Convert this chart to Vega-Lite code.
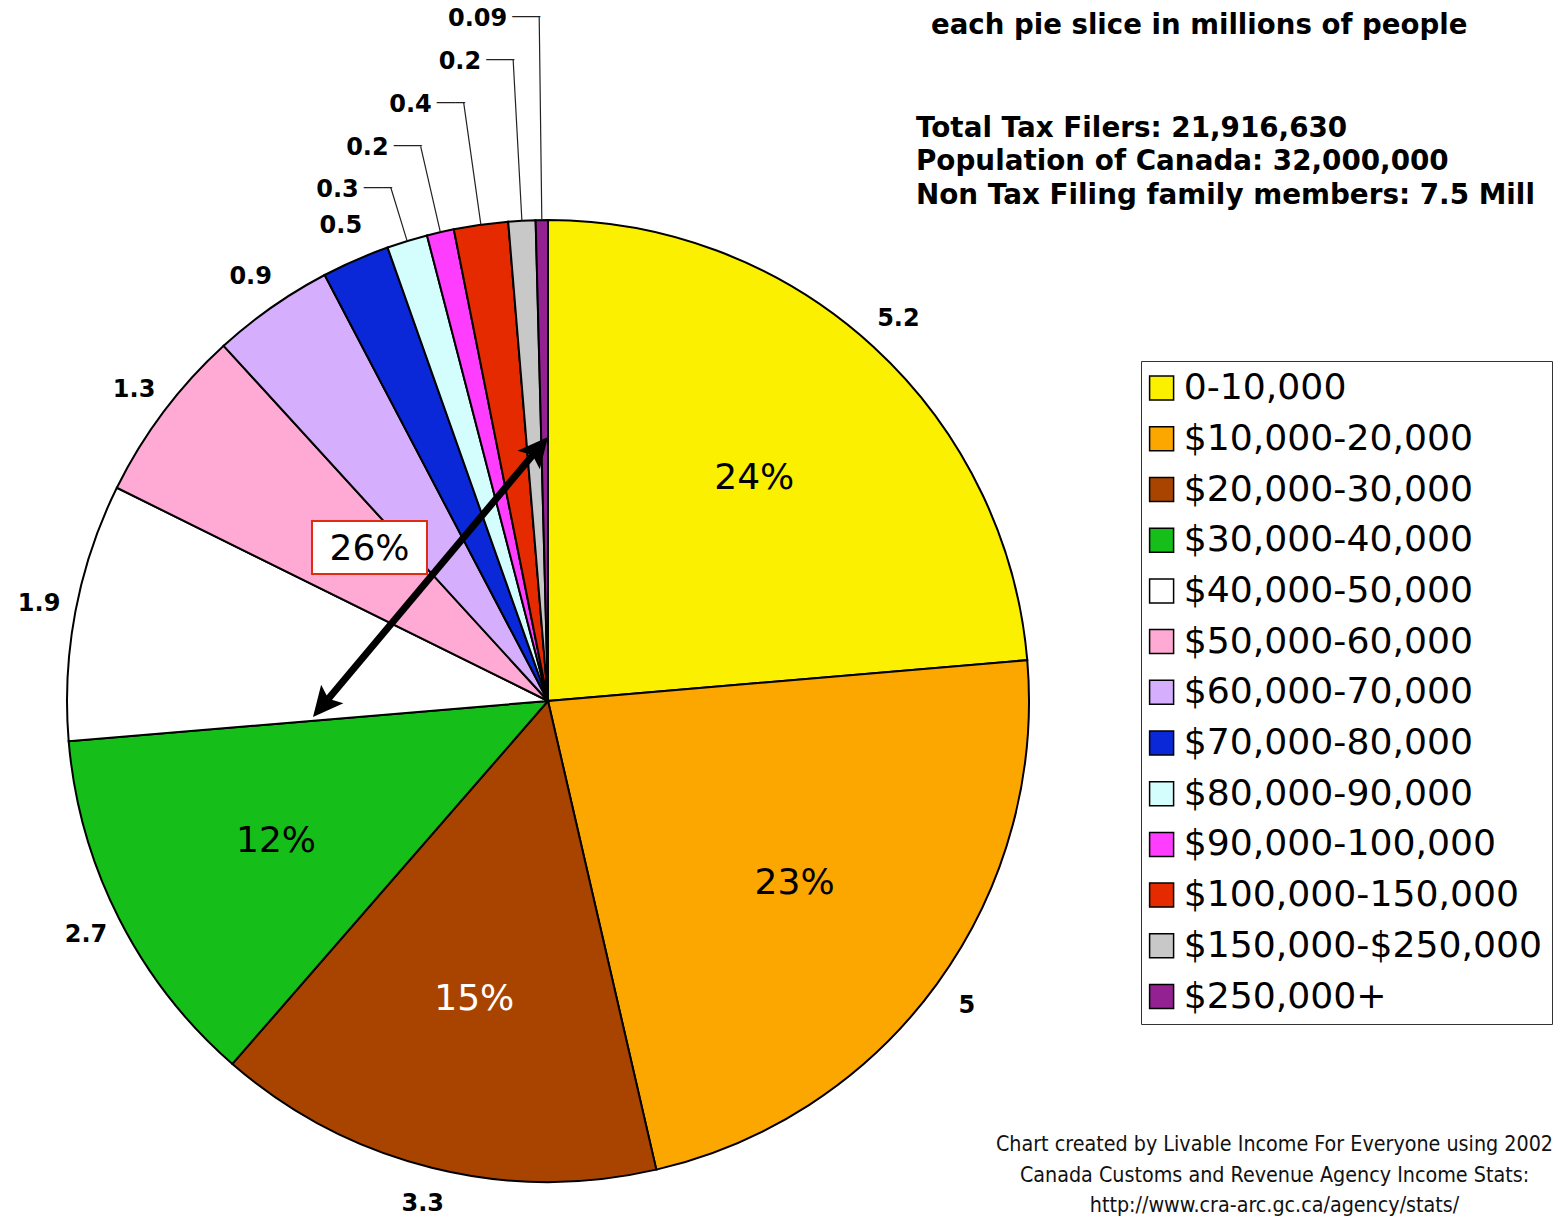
{
  "$schema": "https://vega.github.io/schema/vega-lite/v6.json",
  "width": 1096,
  "height": 1000,
  "autosize": {"type": "none"},
  "padding": {"left": 0, "top": 201, "right": 459, "bottom": 16},
  "background": "white",
  "config": {"view": {"stroke": null}},
  "datasets": {
    "slices": [
      {"idx": 1, "bracket": "0-10,000", "value": 5.2, "pct": "24%"},
      {"idx": 2, "bracket": "$10,000-20,000", "value": 5, "pct": "23%"},
      {"idx": 3, "bracket": "$20,000-30,000", "value": 3.3, "pct": "15%"},
      {"idx": 4, "bracket": "$30,000-40,000", "value": 2.7, "pct": "12%"},
      {"idx": 5, "bracket": "$40,000-50,000", "value": 1.9, "pct": ""},
      {"idx": 6, "bracket": "$50,000-60,000", "value": 1.3, "pct": ""},
      {"idx": 7, "bracket": "$60,000-70,000", "value": 0.9, "pct": ""},
      {"idx": 8, "bracket": "$70,000-80,000", "value": 0.5, "pct": ""},
      {"idx": 9, "bracket": "$80,000-90,000", "value": 0.3, "pct": ""},
      {"idx": 10, "bracket": "$90,000-100,000", "value": 0.2, "pct": ""},
      {"idx": 11, "bracket": "$100,000-150,000", "value": 0.4, "pct": ""},
      {"idx": 12, "bracket": "$150,000-$250,000", "value": 0.2, "pct": ""},
      {"idx": 13, "bracket": "$250,000+", "value": 0.09, "pct": ""}
    ],
    "one": [{"n": 1}]
  },
  "data": {"name": "slices"},
  "layer": [
    {
      "mark": {"type": "arc", "outerRadius": 481, "stroke": "black", "strokeWidth": 2},
      "encoding": {
        "theta": {"field": "value", "type": "quantitative", "stack": true},
        "order": {"field": "idx", "type": "quantitative"},
        "color": {
          "field": "bracket",
          "type": "nominal",
          "scale": {
            "domain": ["0-10,000", "$10,000-20,000", "$20,000-30,000", "$30,000-40,000", "$40,000-50,000", "$50,000-60,000", "$60,000-70,000", "$70,000-80,000", "$80,000-90,000", "$90,000-100,000", "$100,000-150,000", "$150,000-$250,000", "$250,000+"],
            "range": ["#FAF000", "#FCA600", "#A84400", "#15BE18", "#FFFFFF", "#FFAAD5", "#D5AEFD", "#0A28D8", "#D4FEFE", "#FF3DFF", "#E52A00", "#C8C8C8", "#932192"]
          },
          "legend": {
            "title": null,
            "orient": "none",
            "legendX": 1141,
            "legendY": 160,
            "symbolType": "square",
            "symbolSize": 576,
            "symbolStrokeColor": "black",
            "symbolStrokeWidth": 1.5,
            "symbolOffset": -6.5,
            "labelFont": "DejaVu Sans",
            "labelFontSize": 36.2,
            "labelColor": "black",
            "labelLimit": 600,
            "labelOffset": 4,
            "rowPadding": 13.7,
            "padding": 9,
            "strokeColor": "#333333",
            "fillColor": "white"
          }
        }
      }
    },
    {
      "mark": {"type": "arc", "innerRadius": 481, "outerRadius": 537, "padAngle": 3, "filled": false, "stroke": "#222222", "strokeWidth": 1.2},
      "encoding": {
        "theta": {"field": "value", "type": "quantitative", "stack": true},
        "order": {"field": "idx", "type": "quantitative"},
        "strokeOpacity": {"condition": {"test": "datum.idx == 9", "value": 1}, "value": 0}
      }
    },
    {
      "mark": {"type": "arc", "innerRadius": 481, "outerRadius": 569, "padAngle": 3, "filled": false, "stroke": "#222222", "strokeWidth": 1.2},
      "encoding": {
        "theta": {"field": "value", "type": "quantitative", "stack": true},
        "order": {"field": "idx", "type": "quantitative"},
        "strokeOpacity": {"condition": {"test": "datum.idx == 10", "value": 1}, "value": 0}
      }
    },
    {
      "mark": {"type": "arc", "innerRadius": 481, "outerRadius": 604, "padAngle": 3, "filled": false, "stroke": "#222222", "strokeWidth": 1.2},
      "encoding": {
        "theta": {"field": "value", "type": "quantitative", "stack": true},
        "order": {"field": "idx", "type": "quantitative"},
        "strokeOpacity": {"condition": {"test": "datum.idx == 11", "value": 1}, "value": 0}
      }
    },
    {
      "mark": {"type": "arc", "innerRadius": 481, "outerRadius": 642, "padAngle": 3, "filled": false, "stroke": "#222222", "strokeWidth": 1.2},
      "encoding": {
        "theta": {"field": "value", "type": "quantitative", "stack": true},
        "order": {"field": "idx", "type": "quantitative"},
        "strokeOpacity": {"condition": {"test": "datum.idx == 12", "value": 1}, "value": 0}
      }
    },
    {
      "mark": {"type": "arc", "innerRadius": 481, "outerRadius": 684, "padAngle": 3, "filled": false, "stroke": "#222222", "strokeWidth": 1.2},
      "encoding": {
        "theta": {"field": "value", "type": "quantitative", "stack": true},
        "order": {"field": "idx", "type": "quantitative"},
        "strokeOpacity": {"condition": {"test": "datum.idx == 13", "value": 1}, "value": 0}
      }
    },
    {
      "mark": {"type": "text", "radius": 537, "align": "right", "baseline": "middle", "dx": 1, "font": "DejaVu Sans", "fontSize": 15.5, "color": "#222222"},
      "encoding": {
        "theta": {"field": "value", "type": "quantitative", "stack": true},
        "order": {"field": "idx", "type": "quantitative"},
        "text": {"condition": {"test": "datum.idx == 9", "value": "───"}, "value": ""}
      }
    },
    {
      "mark": {"type": "text", "radius": 569, "align": "right", "baseline": "middle", "dx": 1, "font": "DejaVu Sans", "fontSize": 15.5, "color": "#222222"},
      "encoding": {
        "theta": {"field": "value", "type": "quantitative", "stack": true},
        "order": {"field": "idx", "type": "quantitative"},
        "text": {"condition": {"test": "datum.idx == 10", "value": "───"}, "value": ""}
      }
    },
    {
      "mark": {"type": "text", "radius": 604, "align": "right", "baseline": "middle", "dx": 1, "font": "DejaVu Sans", "fontSize": 15.5, "color": "#222222"},
      "encoding": {
        "theta": {"field": "value", "type": "quantitative", "stack": true},
        "order": {"field": "idx", "type": "quantitative"},
        "text": {"condition": {"test": "datum.idx == 11", "value": "───"}, "value": ""}
      }
    },
    {
      "mark": {"type": "text", "radius": 642, "align": "right", "baseline": "middle", "dx": 1, "font": "DejaVu Sans", "fontSize": 15.5, "color": "#222222"},
      "encoding": {
        "theta": {"field": "value", "type": "quantitative", "stack": true},
        "order": {"field": "idx", "type": "quantitative"},
        "text": {"condition": {"test": "datum.idx == 12", "value": "───"}, "value": ""}
      }
    },
    {
      "mark": {"type": "text", "radius": 684, "align": "right", "baseline": "middle", "dx": 1, "font": "DejaVu Sans", "fontSize": 15.5, "color": "#222222"},
      "encoding": {
        "theta": {"field": "value", "type": "quantitative", "stack": true},
        "order": {"field": "idx", "type": "quantitative"},
        "text": {"condition": {"test": "datum.idx == 13", "value": "───"}, "value": ""}
      }
    },
    {
      "mark": {"type": "text", "radius": 537, "align": "right", "baseline": "middle", "dx": -32, "dy": 2, "font": "DejaVu Sans", "fontWeight": "bold", "fontSize": 24, "color": "black"},
      "encoding": {
        "theta": {"field": "value", "type": "quantitative", "stack": true},
        "order": {"field": "idx", "type": "quantitative"},
        "text": {"condition": {"test": "datum.idx == 9", "field": "value", "type": "nominal"}, "value": ""}
      }
    },
    {
      "mark": {"type": "text", "radius": 569, "align": "right", "baseline": "middle", "dx": -32, "dy": 2, "font": "DejaVu Sans", "fontWeight": "bold", "fontSize": 24, "color": "black"},
      "encoding": {
        "theta": {"field": "value", "type": "quantitative", "stack": true},
        "order": {"field": "idx", "type": "quantitative"},
        "text": {"condition": {"test": "datum.idx == 10", "field": "value", "type": "nominal"}, "value": ""}
      }
    },
    {
      "mark": {"type": "text", "radius": 604, "align": "right", "baseline": "middle", "dx": -32, "dy": 2, "font": "DejaVu Sans", "fontWeight": "bold", "fontSize": 24, "color": "black"},
      "encoding": {
        "theta": {"field": "value", "type": "quantitative", "stack": true},
        "order": {"field": "idx", "type": "quantitative"},
        "text": {"condition": {"test": "datum.idx == 11", "field": "value", "type": "nominal"}, "value": ""}
      }
    },
    {
      "mark": {"type": "text", "radius": 642, "align": "right", "baseline": "middle", "dx": -32, "dy": 2, "font": "DejaVu Sans", "fontWeight": "bold", "fontSize": 24, "color": "black"},
      "encoding": {
        "theta": {"field": "value", "type": "quantitative", "stack": true},
        "order": {"field": "idx", "type": "quantitative"},
        "text": {"condition": {"test": "datum.idx == 12", "field": "value", "type": "nominal"}, "value": ""}
      }
    },
    {
      "mark": {"type": "text", "radius": 684, "align": "right", "baseline": "middle", "dx": -32, "dy": 2, "font": "DejaVu Sans", "fontWeight": "bold", "fontSize": 24, "color": "black"},
      "encoding": {
        "theta": {"field": "value", "type": "quantitative", "stack": true},
        "order": {"field": "idx", "type": "quantitative"},
        "text": {"condition": {"test": "datum.idx == 13", "field": "value", "type": "nominal"}, "value": ""}
      }
    },
    {
      "mark": {"type": "text", "radius": 518, "align": "center", "baseline": "middle", "font": "DejaVu Sans", "fontWeight": "bold", "fontSize": 24, "color": "black"},
      "encoding": {
        "theta": {"field": "value", "type": "quantitative", "stack": true},
        "order": {"field": "idx", "type": "quantitative"},
        "text": {"condition": {"test": "datum.idx <= 8", "field": "value", "type": "nominal"}, "value": ""}
      }
    },
    {
      "mark": {"type": "text", "radius": 305, "align": "center", "baseline": "middle", "dy": 2, "font": "DejaVu Sans", "fontSize": 36},
      "encoding": {
        "theta": {"field": "value", "type": "quantitative", "stack": true},
        "order": {"field": "idx", "type": "quantitative"},
        "text": {"field": "pct", "type": "nominal"},
        "color": {"condition": {"test": "datum.idx == 3", "value": "white"}, "value": "black"}
      }
    },
    {
      "data": {"name": "one"},
      "mark": {"type": "rect", "fill": "white", "stroke": "#E02D12", "strokeWidth": 2},
      "encoding": {
        "x": {"datum": -0.49064, "type": "quantitative", "scale": {"domain": [-1.13929, 1.13929], "nice": false, "zero": false}, "axis": null},
        "x2": {"datum": -0.25156},
        "y": {"datum": 0.37422, "type": "quantitative", "scale": {"domain": [-1.0395, 1.0395], "nice": false, "zero": false}, "axis": null},
        "y2": {"datum": 0.26403}
      }
    },
    {
      "data": {"name": "one"},
      "mark": {"type": "text", "text": "26%", "align": "center", "baseline": "middle", "dy": 2, "font": "DejaVu Sans", "fontSize": 36, "color": "black"},
      "encoding": {
        "x": {"datum": -0.3711, "type": "quantitative", "scale": {"domain": [-1.13929, 1.13929], "nice": false, "zero": false}, "axis": null},
        "y": {"datum": 0.31913, "type": "quantitative", "scale": {"domain": [-1.0395, 1.0395], "nice": false, "zero": false}, "axis": null}
      }
    },
    {
      "data": {"name": "one"},
      "mark": {"type": "rule", "strokeWidth": 7, "color": "black"},
      "encoding": {
        "x": {"datum": -0.0268, "type": "quantitative", "scale": {"domain": [-1.13929, 1.13929], "nice": false, "zero": false}, "axis": null},
        "y": {"datum": 0.517, "type": "quantitative", "scale": {"domain": [-1.0395, 1.0395], "nice": false, "zero": false}, "axis": null},
        "x2": {"datum": -0.4618},
        "y2": {"datum": -0.0015}
      }
    },
    {
      "data": {"name": "one"},
      "mark": {"type": "point", "shape": "M0,0L0.967,2L0,1.6L-0.967,2Z", "size": 900, "angle": 40, "filled": true, "color": "black", "opacity": 1, "strokeWidth": 0},
      "encoding": {
        "x": {"datum": 0, "type": "quantitative", "scale": {"domain": [-1.13929, 1.13929], "nice": false, "zero": false}, "axis": null},
        "y": {"datum": 0.5489, "type": "quantitative", "scale": {"domain": [-1.0395, 1.0395], "nice": false, "zero": false}, "axis": null}
      }
    },
    {
      "data": {"name": "one"},
      "mark": {"type": "point", "shape": "M0,0L0.967,2L0,1.6L-0.967,2Z", "size": 900, "angle": 220, "filled": true, "color": "black", "opacity": 1, "strokeWidth": 0},
      "encoding": {
        "x": {"datum": -0.4886, "type": "quantitative", "scale": {"domain": [-1.13929, 1.13929], "nice": false, "zero": false}, "axis": null},
        "y": {"datum": -0.0333, "type": "quantitative", "scale": {"domain": [-1.0395, 1.0395], "nice": false, "zero": false}, "axis": null}
      }
    },
    {
      "data": {"name": "one"},
      "mark": {"type": "text", "text": "each pie slice in millions of people", "align": "left", "baseline": "alphabetic", "font": "DejaVu Sans", "fontWeight": "bold", "fontSize": 27.6, "color": "black"},
      "encoding": {
        "x": {"datum": 0.79626, "type": "quantitative", "scale": {"domain": [-1.13929, 1.13929], "nice": false, "zero": false}, "axis": null},
        "y": {"datum": 1.38669, "type": "quantitative", "scale": {"domain": [-1.0395, 1.0395], "nice": false, "zero": false}, "axis": null}
      }
    },
    {
      "data": {"name": "one"},
      "mark": {"type": "text", "text": ["Total Tax Filers: 21,916,630", "Population of Canada: 32,000,000", "Non Tax Filing family members: 7.5 Mill"], "lineHeight": 33.5, "align": "left", "baseline": "alphabetic", "font": "DejaVu Sans", "fontWeight": "bold", "fontSize": 27.8, "color": "black"},
      "encoding": {
        "x": {"datum": 0.76507, "type": "quantitative", "scale": {"domain": [-1.13929, 1.13929], "nice": false, "zero": false}, "axis": null},
        "y": {"datum": 1.17256, "type": "quantitative", "scale": {"domain": [-1.0395, 1.0395], "nice": false, "zero": false}, "axis": null}
      }
    },
    {
      "data": {"name": "one"},
      "mark": {"type": "text", "text": ["Chart created by Livable Income For Everyone using 2002", "Canada Customs and Revenue Agency Income Stats:", "http://www.cra-arc.gc.ca/agency/stats/"], "lineHeight": 30.5, "align": "center", "baseline": "alphabetic", "font": "'DejaVu Sans Condensed', 'Liberation Sans'", "fontSize": 21.3, "color": "#111111"},
      "encoding": {
        "x": {"datum": 1.5104, "type": "quantitative", "scale": {"domain": [-1.13929, 1.13929], "nice": false, "zero": false}, "axis": null},
        "y": {"datum": -0.93555, "type": "quantitative", "scale": {"domain": [-1.0395, 1.0395], "nice": false, "zero": false}, "axis": null}
      }
    }
  ]
}
